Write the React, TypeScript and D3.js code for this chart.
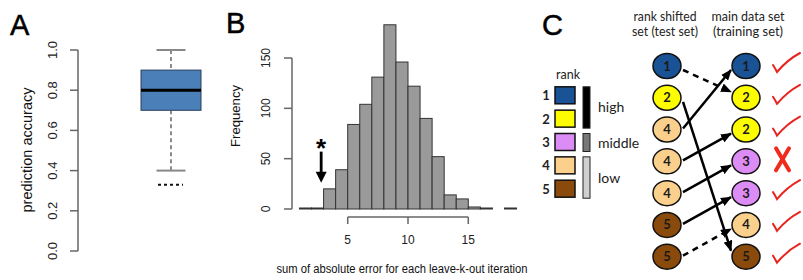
import React from "react";
import * as d3 from "d3";

// ---- panel A: prediction accuracy boxplot
const accuracyStats = { min: 0.4, q1: 0.7, median: 0.8, q3: 0.9, max: 1.0 };
const accuracyOutliers = [0.33];
const accuracyTicks = [0, 0.2, 0.4, 0.6, 0.8, 1.0];

// ---- panel B: histogram of summed absolute error
const binStarts = [1, 2, 3, 4, 5, 6, 7, 8, 9, 10, 11, 12, 13, 14, 15, 16, 17, 18];
const binCounts = [1, 1, 20, 39, 84, 104, 131, 183, 146, 122, 90, 52, 14, 10, 2, 1, 0, 1];
const freqTicks = [0, 50, 100, 150];
const errorTicks = [5, 10, 15];
const observedError = 2.8; // the starred value
const arrowFreq = [57, 26];

// ---- panel C: rank shift schematic
const rankColors = ["#1a5296", "#fdfd00", "#dc8cf5", "#fbd08c", "#8a4a0c"];
const rankLabels = ["1", "2", "3", "4", "5"];
const rankGroups = [
  { label: "high", ranks: [1, 2], fill: "#000" },
  { label: "middle", ranks: [3], fill: "#777" },
  { label: "low", ranks: [4, 5], fill: "#d0d0d0" },
];
const testRanks = [1, 2, 4, 4, 4, 5, 5];
const trainRanks = [1, 2, 2, 3, 3, 4, 5];
const links = [
  { from: 0, to: 1, dashed: true },
  { from: 1, to: 6, dashed: false },
  { from: 2, to: 0, dashed: false },
  { from: 3, to: 2, dashed: false },
  { from: 4, to: 3, dashed: false },
  { from: 5, to: 4, dashed: false },
  { from: 6, to: 5, dashed: true },
];
const correct = [true, true, true, false, true, true, true];

const SANS = "'Liberation Sans', Arial, sans-serif";
const HUMAN = "Lato, 'Open Sans', sans-serif";

function PanelLetter({ x, y, label }: { x: number; y: number; label: string }) {
  return (
    <text x={x} y={y} fontFamily={SANS} fontSize={29} stroke="#000" strokeWidth={0.5}>{label}</text>
  );
}

function PanelA() {
  const y = d3.scaleLinear().domain([0, 1]).range([251, 50]);
  const xb = d3.scaleBand().domain(["accuracy"]).range([141, 201]);
  const x0 = xb("accuracy")!;
  const bw = xb.bandwidth();
  const cx = x0 + bw / 2;
  const s = accuracyStats;
  return (
    <g>
      <PanelLetter x={10} y={35} label="A" />
      <line x1={78} x2={78} y1={y(0)} y2={y(1)} stroke="#666" strokeWidth={1.5} />
      {accuracyTicks.map((t) => (
        <g key={t}>
          <line x1={70} x2={78} y1={y(t)} y2={y(t)} stroke="#666" strokeWidth={1.5} />
          <text transform={`translate(57,${y(t)}) rotate(-90)`} textAnchor="middle" fontFamily={SANS} fontSize={13} fill="#222">
            {t.toFixed(1)}
          </text>
        </g>
      ))}
      <text transform={`translate(32,150) rotate(-90)`} textAnchor="middle" fontFamily={SANS} fontSize={14} textLength={125} lengthAdjust="spacingAndGlyphs" fill="#111">
        prediction accuracy
      </text>
      <line x1={cx} x2={cx} y1={y(s.max)} y2={y(s.q3)} stroke="#666" strokeWidth={1.5} strokeDasharray="4,3" />
      <line x1={cx} x2={cx} y1={y(s.q1)} y2={y(s.min)} stroke="#666" strokeWidth={1.5} strokeDasharray="4,3" />
      <line x1={cx - 14.5} x2={cx + 14.5} y1={y(s.max)} y2={y(s.max)} stroke="#888" strokeWidth={2} />
      <line x1={cx - 14.5} x2={cx + 14.5} y1={y(s.min)} y2={y(s.min)} stroke="#888" strokeWidth={2} />
      <rect x={x0} y={y(s.q3)} width={bw} height={y(s.q1) - y(s.q3)} fill="#4a7fb8" stroke="#2a3f5a" strokeWidth={1} />
      <line x1={x0} x2={x0 + bw} y1={y(s.median)} y2={y(s.median)} stroke="#000" strokeWidth={3} />
      {accuracyOutliers.map((o) => (
        <line key={o} x1={cx - 13} x2={cx + 12} y1={y(o)} y2={y(o)} stroke="#111" strokeWidth={2} strokeDasharray="3,3" />
      ))}
    </g>
  );
}

function PanelB() {
  const x = d3.scaleLinear().domain([5, 15]).range([347.7, 468.3]);
  const y = d3.scaleLinear().domain([0, 150]).range([209, 58]);
  const ax = x(observedError);
  return (
    <g>
      <PanelLetter x={226} y={33} label="B" />
      <line x1={292} x2={292} y1={y(0)} y2={y(150)} stroke="#666" strokeWidth={1.5} />
      {freqTicks.map((t) => (
        <g key={t}>
          <line x1={284} x2={292} y1={y(t)} y2={y(t)} stroke="#666" strokeWidth={1.5} />
          <text transform={`translate(270,${y(t)}) rotate(-90)`} textAnchor="middle" fontFamily={SANS} fontSize={12} fill="#222">
            {t}
          </text>
        </g>
      ))}
      <text transform={`translate(240,116) rotate(-90)`} textAnchor="middle" fontFamily={SANS} fontSize={13} textLength={62} lengthAdjust="spacingAndGlyphs" fill="#111">
        Frequency
      </text>
      {binStarts.map((b, i) =>
        binCounts[i] > 0 ? (
          <rect key={b} x={x(b)} y={y(binCounts[i])} width={x(b + 1) - x(b)} height={y(0) - y(binCounts[i])} fill="#9a9a9a" stroke="#333" strokeWidth={1} />
        ) : null
      )}
      <line x1={x(errorTicks[0])} x2={x(errorTicks[errorTicks.length - 1])} y1={217} y2={217} stroke="#666" strokeWidth={1.5} />
      {errorTicks.map((t) => (
        <g key={t}>
          <line x1={x(t)} x2={x(t)} y1={217} y2={224} stroke="#666" strokeWidth={1.5} />
          <text x={x(t)} y={244} textAnchor="middle" fontFamily={SANS} fontSize={12} fill="#222">{t}</text>
        </g>
      ))}
      <text x={402} y={273} textAnchor="middle" fontFamily={SANS} fontSize={12} textLength={251} lengthAdjust="spacingAndGlyphs" fill="#111">
        sum of absolute error for each leave-k-out iteration
      </text>
      <line x1={ax} x2={ax} y1={y(arrowFreq[0])} y2={y(arrowFreq[1]) - 8} stroke="#000" strokeWidth={2.8} />
      <path d={`M${ax - 5.5},${y(arrowFreq[1]) - 11} L${ax + 5.5},${y(arrowFreq[1]) - 11} L${ax},${y(arrowFreq[1])} Z`} fill="#000" />
      <text x={ax} y={157} textAnchor="middle" fontFamily={SANS} fontWeight="bold" fontSize={26}>*</text>
    </g>
  );
}

function PanelC() {
  const row = d3.scalePoint<number>().domain(d3.range(testRanks.length)).range([66, 256.7]);
  const col = d3.scalePoint<string>().domain(["test", "train"]).range([667, 746]);
  const legendRow = d3.scalePoint<number>().domain([1, 2, 3, 4, 5]).range([95.3, 188.7]);
  const xL = col("test")!;
  const xR = col("train")!;
  const rx = 14, ry = 12.5;
  const circle = (cx: number, cy: number, r: number, key: string) => (
    <g key={key}>
      <ellipse cx={cx} cy={cy} rx={rx} ry={ry} fill={rankColors[r - 1]} stroke="#111" strokeWidth={1.5} />
      <text x={cx} y={cy + 4.5} textAnchor="middle" fontFamily={HUMAN} fontSize={13} fontWeight="bold" fill="#1a1a1a">{r}</text>
    </g>
  );
  return (
    <g>
      <defs>
        <marker id="head" markerUnits="userSpaceOnUse" markerWidth={11} markerHeight={9} refX={10} refY={4.5} orient="auto">
          <path d="M0,0 L11,4.5 L0,9 Z" fill="#000" />
        </marker>
      </defs>
      <PanelLetter x={542} y={35} label="C" />

      <text x={665} y={21} textAnchor="middle" fontFamily={HUMAN} fontSize={13} textLength={63} lengthAdjust="spacingAndGlyphs" fill="#222">rank shifted</text>
      <text x={665} y={36} textAnchor="middle" fontFamily={HUMAN} fontSize={13} textLength={66} lengthAdjust="spacingAndGlyphs" fill="#222">set (test set)</text>
      <text x={748} y={21} textAnchor="middle" fontFamily={HUMAN} fontSize={13} textLength={73} lengthAdjust="spacingAndGlyphs" fill="#222">main data set</text>
      <text x={748} y={36} textAnchor="middle" fontFamily={HUMAN} fontSize={13} textLength={70} lengthAdjust="spacingAndGlyphs" fill="#222">(training set)</text>

      {/* legend */}
      <text x={568} y={79} textAnchor="middle" fontFamily={HUMAN} fontSize={12.5} fill="#222">rank</text>
      {rankLabels.map((lab, i) => (
        <g key={lab}>
          <text x={546} y={legendRow(i + 1)! + 5} textAnchor="middle" fontFamily={HUMAN} fontSize={13} fontWeight="bold" fill="#222">{lab}</text>
          <rect x={555} y={legendRow(i + 1)! - 8.5} width={20} height={17} fill={rankColors[i]} stroke="#111" strokeWidth={1.5} />
        </g>
      ))}
      {rankGroups.map((g) => {
        const top = legendRow(g.ranks[0])! - 8.5;
        const bot = legendRow(g.ranks[g.ranks.length - 1])! + 9.5;
        return (
          <g key={g.label}>
            <rect x={583} y={top} width={7} height={bot - top} fill={g.fill} stroke="#222" strokeWidth={1} />
            <text x={598} y={(top + bot) / 2 + 5} fontFamily={HUMAN} fontSize={14} fill="#222">{g.label}</text>
          </g>
        );
      })}

      {/* arrows */}
      {links.map((l, i) => {
        const y1 = row(l.from)!;
        const y2 = row(l.to)!;
        const down = y2 > y1;
        return (
          <line key={i} x1={xL + 16} y1={y1 + (down ? 4 : -1)} x2={xR - 15} y2={y2 + (down ? -6 : 4)}
            stroke="#000" strokeWidth={2.5} strokeDasharray={l.dashed ? "6,5" : undefined} markerEnd="url(#head)" />
        );
      })}
      {testRanks.map((r, i) => circle(xL, row(i)!, r, "t" + i))}
      {trainRanks.map((r, i) => circle(xR, row(i)!, r, "m" + i))}

      {/* outcome marks */}
      {correct.map((ok, i) => {
        const cy = row(i)!;
        return ok ? (
          <path key={i} d={`M773,${cy - 1} Q775,${cy + 2} 777,${cy + 6} Q787,${cy - 6} 800,${cy - 13}`} fill="none" stroke="#e8241f" strokeWidth={2} strokeLinecap="round" />
        ) : (
          <g key={i} stroke="#f02a1c" strokeWidth={4} strokeLinecap="round">
            <line x1={776} y1={cy - 13} x2={789} y2={cy + 9} />
            <line x1={789} y1={cy - 13} x2={776} y2={cy + 9} />
          </g>
        );
      })}
    </g>
  );
}

export default function App() {
  return (
    <svg width={803} height={280} style={{ position: "absolute", left: 0, top: 0, background: "#fff" }}>
      <PanelA />
      <PanelB />
      <PanelC />
    </svg>
  );
}
